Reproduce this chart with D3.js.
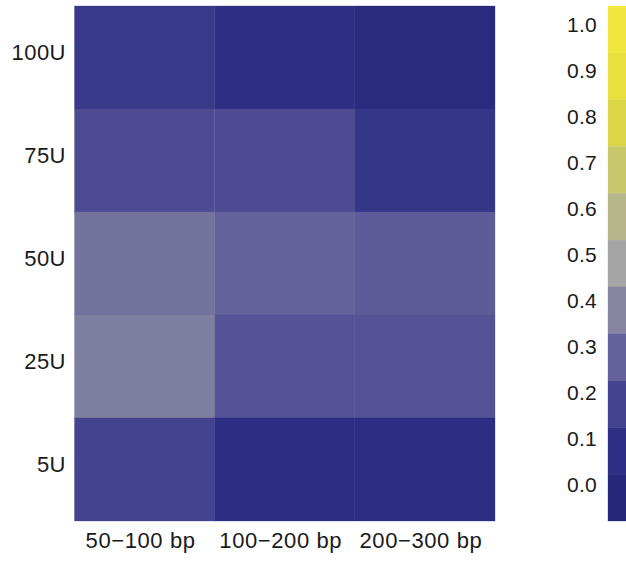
<!DOCTYPE html>
<html>
<head>
<meta charset="utf-8">
<script src="https://cdn.jsdelivr.net/npm/d3@7"></script>
<style>
  html, body { margin: 0; padding: 0; background: #ffffff; }
  svg { display: block; }
  text { font-family: "Liberation Sans", Arial, Helvetica, sans-serif; fill: #1a1a1a; }
</style>
</head>
<body>
<svg id="chart" width="626" height="566"></svg>
<script>
// Fragment-size bins (columns) and enzyme amounts (rows)
const columns = ["50−100 bp", "100−200 bp", "200−300 bp"];
const rows = ["100U", "75U", "50U", "25U", "5U"];

// Cell values, one array per row, in column order
const row100U = [0.15, 0.10, 0.04];
const row75U  = [0.23, 0.23, 0.14];
const row50U  = [0.35, 0.30, 0.28];
const row25U  = [0.38, 0.25, 0.25];
const row5U   = [0.20, 0.09, 0.09];
const cellValues = [row100U, row75U, row50U, row25U, row5U];

// Colour key: tick values and the palette colour at each
const legendTicks = [0.0, 0.1, 0.2, 0.3, 0.4, 0.5, 0.6, 0.7, 0.8, 0.9, 1.0];
const palette = ["#272779", "#2e2e85", "#43438f", "#63629a", "#85859f",
                 "#a5a5a5", "#b6b68a", "#c9c86c", "#dbd548", "#e9e040", "#f1e63e"];

const svg = d3.select("#chart");

const x = d3.scaleBand().domain(columns).range([74.5, 495]);
const y = d3.scaleBand().domain(rows).range([6, 521]);
const color = d3.scaleLinear().domain(legendTicks).range(palette).interpolate(d3.interpolateRgb);

const cells = [];
rows.forEach((r, i) => columns.forEach((c, j) => cells.push({ row: r, col: c, value: cellValues[i][j] })));

svg.append("g").selectAll("rect")
  .data(cells)
  .join("rect")
  .attr("x", d => x(d.col))
  .attr("y", d => y(d.row))
  .attr("width", x.bandwidth())
  .attr("height", y.bandwidth())
  .attr("fill", d => color(d.value))
  .attr("stroke", d => color(d.value))
  .attr("stroke-width", 0.3);

// Row labels
svg.append("g").selectAll("text")
  .data(rows)
  .join("text")
  .attr("x", 66)
  .attr("y", d => y(d) + y.bandwidth() / 2 - 5)
  .attr("text-anchor", "end")
  .attr("dominant-baseline", "central")
  .attr("font-size", 22)
  .attr("letter-spacing", 0.5)
  .text(d => d);

// Column labels
svg.append("g").selectAll("text")
  .data(columns)
  .join("text")
  .attr("x", d => x(d) + x.bandwidth() / 2 - 4)
  .attr("y", 548)
  .attr("text-anchor", "middle")
  .attr("font-size", 22)
  .attr("letter-spacing", 0.6)
  .text(d => d);

// Discrete colour key
const legendBins = legendTicks.slice().reverse();
const yKey = d3.scaleBand().domain(legendBins).range([6, 521]);
svg.append("g").selectAll("rect")
  .data(legendBins)
  .join("rect")
  .attr("x", 608)
  .attr("y", d => yKey(d))
  .attr("width", 30)
  .attr("height", yKey.bandwidth())
  .attr("fill", d => color(d))
  .attr("stroke", d => color(d))
  .attr("stroke-width", 0.3);

const yLab = d3.scaleLinear().domain([1, 0]).range([24, 484]);
svg.append("g").selectAll("text")
  .data(legendTicks)
  .join("text")
  .attr("x", 597)
  .attr("y", d => yLab(d))
  .attr("text-anchor", "end")
  .attr("dominant-baseline", "central")
  .attr("font-size", 21)
  .attr("letter-spacing", 0.3)
  .text(d => d.toFixed(1));
</script>
</body>
</html>
